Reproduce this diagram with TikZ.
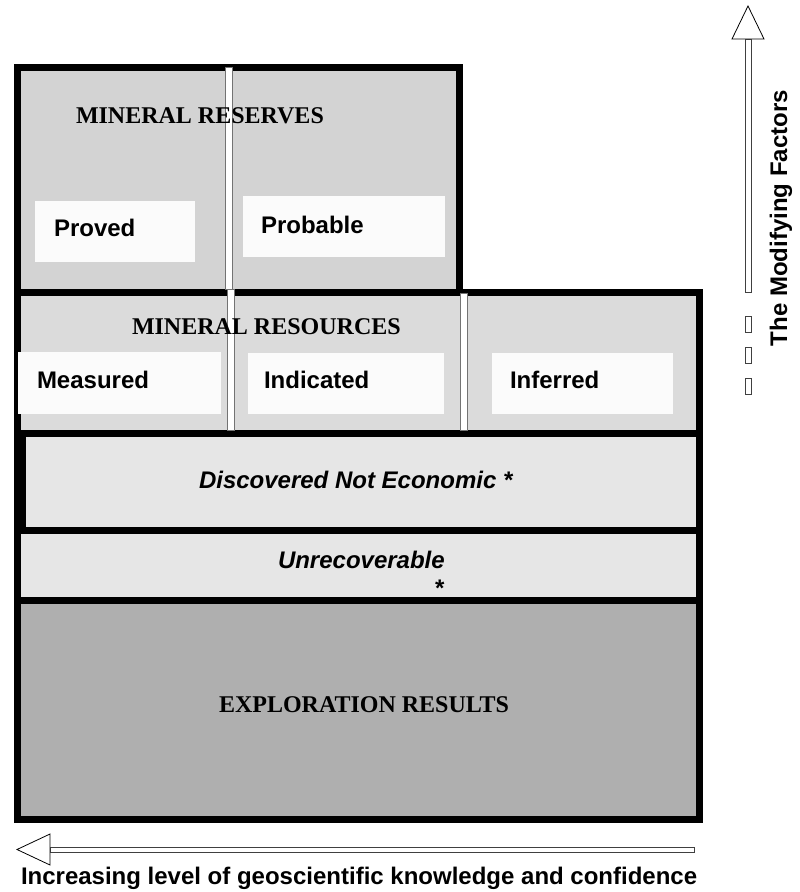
\documentclass[tikz,border=0pt]{standalone}
\usepackage{fontspec}
\setmainfont{Liberation Sans}
\newfontfamily\serifbold{Liberation Serif}
\definecolor{resvfill}{RGB}{211,211,211}
\definecolor{resofill}{RGB}{219,219,219}
\definecolor{discfill}{RGB}{230,230,230}
\definecolor{explfill}{RGB}{175,175,175}
\definecolor{wboxfill}{RGB}{251,251,251}
\begin{document}
\begin{tikzpicture}[x=1pt,y=-1pt,
  panel/.style={draw=black,line width=7pt,rectangle,inner sep=0pt,outer sep=0pt,anchor=north west},
  dline/.style={draw=black!55,fill=white,line width=0.8pt,rectangle,inner sep=0pt,outer sep=0pt,anchor=north west,minimum width=7pt},
  wbox/.style={fill=wboxfill,rectangle,inner sep=0pt,outer sep=0pt,anchor=north west},
  lab/.style={font=\fontsize{24}{28}\selectfont\bfseries,inner sep=0pt,outer sep=0pt,anchor=base west},
  ilab/.style={font=\fontsize{24}{28}\selectfont\bfseries\itshape,inner sep=0pt,outer sep=0pt,anchor=base west},
  slab/.style={font=\serifbold\fontsize{24}{28}\selectfont\bfseries,inner sep=0pt,outer sep=0pt,anchor=base west},
  hollow/.style={draw=black,fill=white,line width=0.8pt,line join=miter},
  shaft/.style={draw=black!75,fill=white,line width=0.8pt}
]
\useasboundingbox (0,0) rectangle (800,892);

% panels
\node[panel,fill=explfill,minimum width=682pt,minimum height=219pt] (expl) at (17.5,600.5) {};
\node[panel,fill=discfill,minimum width=682pt,minimum height=70.5pt] (unrec) at (17.5,530) {};
\node[panel,fill=discfill,minimum width=682pt,minimum height=96.5pt] (disc) at (17.5,433.5) {};
\node[panel,fill=resofill,minimum width=682pt,minimum height=141pt] (reso) at (17.5,292.5) {};
\node[panel,fill=resvfill,minimum width=442pt,minimum height=225pt] (resv) at (17.5,67.5) {};
\fill[black] (14,430) rectangle (26,534);

% double separating lines
\node[dline,minimum height=222pt] (sepA) at (225.5,67) {};
\node[dline,minimum height=141pt] (sepB) at (227.5,289) {};
\node[dline,minimum height=137pt] (sepC) at (460.5,293) {};

% white label boxes
\node[wbox,minimum width=160pt,minimum height=61pt] (provedbox) at (35,201) {};
\node[wbox,minimum width=202pt,minimum height=61pt] (probablebox) at (243,196) {};
\node[wbox,minimum width=203pt,minimum height=62pt] (measuredbox) at (18,352) {};
\node[wbox,minimum width=196pt,minimum height=61pt] (indicatedbox) at (248,353) {};
\node[wbox,minimum width=181pt,minimum height=61pt] (inferredbox) at (492,353) {};

% texts
\node[slab] (resvt) at (76,123) {MINERAL RESERVES};
\node[lab] (proved) at (54,236) {Proved};
\node[lab] (probable) at (261,233) {Probable};
\node[slab] (resot) at (132,334) {MINERAL RESOURCES};
\node[lab] (measured) at (37,388) {Measured};
\node[lab] (indicated) at (264,388) {Indicated};
\node[lab] (inferred) at (510,388) {Inferred};
\node[ilab] (disct) at (199,488) {Discovered Not Economic *};
\node[ilab] (unrect) at (278,568) {Unrecoverable};
\node[lab] (unrecstar) at (435,596) {*};
\node[slab] (explt) at (219,712) {EXPLORATION RESULTS};

% vertical arrow (modifying factors)
\draw[shaft] (745,39) rectangle (751,292);
\draw[hollow] (748,6) -- (764,39) -- (732,39) -- cycle;
\draw[shaft] (745,316) rectangle (751,332);
\draw[shaft] (745,347) rectangle (751,363);
\draw[shaft] (745,378) rectangle (751,394);
\node[lab,rotate=90] (modf) at (787,346) {The Modifying Factors};

% horizontal arrow (knowledge and confidence)
\draw[shaft] (50,847) rectangle (694,852.5);
\draw[hollow] (17,849.5) -- (50,834) -- (50,865) -- cycle;
\node[lab] (conf) at (21,884) {Increasing level of geoscientific knowledge and confidence};
\end{tikzpicture}
\end{document}
